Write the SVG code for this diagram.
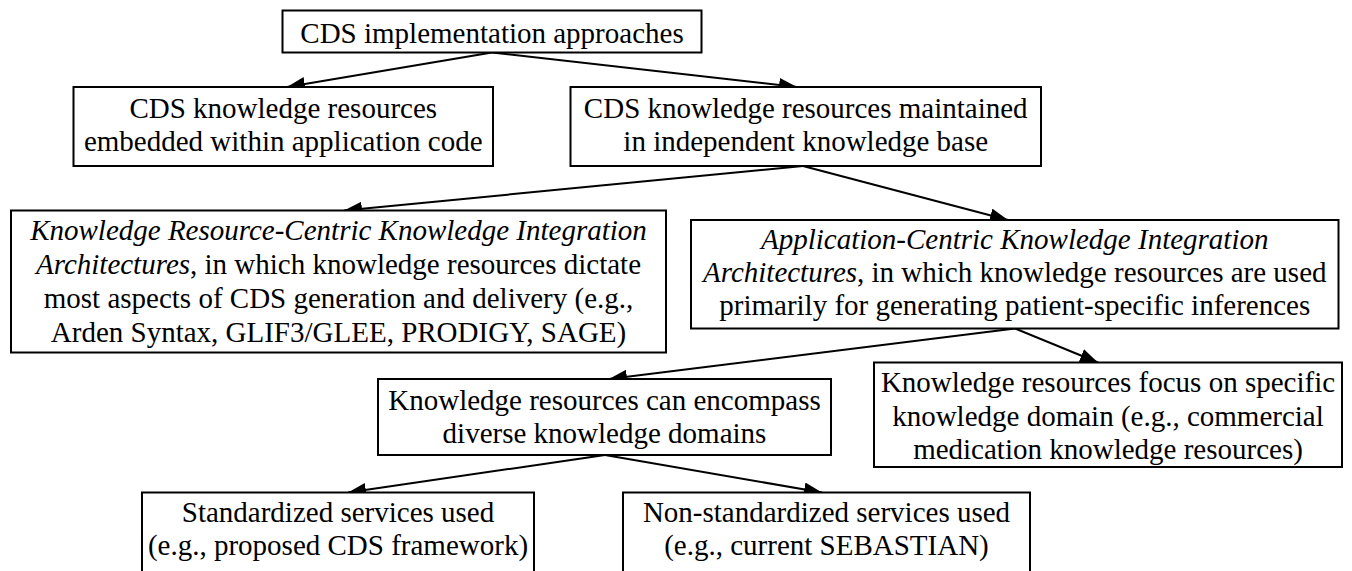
<svg xmlns="http://www.w3.org/2000/svg" width="1352" height="571" viewBox="0 0 1352 571">
  <style>
    .box { fill: #ffffff; stroke: #000000; stroke-width: 2; }
    .lbl { font-family: "Liberation Serif", "Times New Roman", serif; font-size: 29px; fill: #000000; text-anchor: middle; }
    .it { font-style: italic; }
    .edge { fill: none; stroke: #000000; stroke-width: 2; marker-end: url(#head); }
  </style>
  <defs>
    <!-- solid triangular arrowhead shared by all connectors -->
    <marker id="head" markerUnits="userSpaceOnUse" markerWidth="19" markerHeight="15" refX="18" refY="7" orient="auto">
      <path d="M0,0 L18,7 L0,14 Z" fill="#000000"/>
    </marker>
  </defs>
  <rect width="1352" height="571" fill="#ffffff"/>

  <!-- connectors -->
  <g id="connectors">
    <line class="edge" x1="492" y1="52.5" x2="287" y2="87"/>
    <line class="edge" x1="492" y1="52.5" x2="797" y2="87"/>
    <line class="edge" x1="803" y1="166" x2="344" y2="210.5"/>
    <line class="edge" x1="803" y1="166" x2="1008" y2="220"/>
    <line class="edge" x1="1015" y1="328.5" x2="609" y2="379"/>
    <line class="edge" x1="1015" y1="328.5" x2="1098" y2="362.5"/>
    <line class="edge" x1="605" y1="455" x2="348" y2="492.5"/>
    <line class="edge" x1="605" y1="455" x2="822" y2="492.5"/>
  </g>

  <g id="approaches">
    <rect class="box" x="282.5" y="10.5" width="419" height="42"/>
    <text class="lbl" x="492" y="42.5">CDS implementation approaches</text>
  </g>

  <g id="embedded">
    <rect class="box" x="73.5" y="87" width="419.5" height="79"/>
    <text class="lbl" x="283.25" y="117.5">CDS knowledge resources</text>
    <text class="lbl" x="283.25" y="151">embedded within application code</text>
  </g>

  <g id="independent">
    <rect class="box" x="570.5" y="87" width="470.5" height="79"/>
    <text class="lbl" x="805.75" y="117.5">CDS knowledge resources maintained</text>
    <text class="lbl" x="805.75" y="151">in independent knowledge base</text>
  </g>

  <g id="resource-centric">
    <rect class="box" x="11" y="210.5" width="655" height="142"/>
    <text class="lbl it" x="338.5" y="240">Knowledge Resource-Centric Knowledge Integration</text>
    <text class="lbl" x="338.5" y="274"><tspan class="it">Architectures</tspan>, in which knowledge resources dictate</text>
    <text class="lbl" x="338.5" y="308">most aspects of CDS generation and delivery (e.g.,</text>
    <text class="lbl" x="338.5" y="342">Arden Syntax, GLIF3/GLEE, PRODIGY, SAGE)</text>
  </g>

  <g id="application-centric">
    <rect class="box" x="691" y="220" width="647.5" height="108.5"/>
    <text class="lbl it" x="1014.75" y="249">Application-Centric Knowledge Integration</text>
    <text class="lbl" x="1014.75" y="282"><tspan class="it">Architectures</tspan>, in which knowledge resources are used</text>
    <text class="lbl" x="1014.75" y="315">primarily for generating patient-specific inferences</text>
  </g>

  <g id="diverse-domains">
    <rect class="box" x="378" y="379" width="453" height="76"/>
    <text class="lbl" x="604.5" y="410">Knowledge resources can encompass</text>
    <text class="lbl" x="604.5" y="443">diverse knowledge domains</text>
  </g>

  <g id="specific-domain">
    <rect class="box" x="874" y="362.5" width="468" height="104.5"/>
    <text class="lbl" x="1108" y="392">Knowledge resources focus on specific</text>
    <text class="lbl" x="1108" y="425.5">knowledge domain (e.g., commercial</text>
    <text class="lbl" x="1108" y="459">medication knowledge resources)</text>
  </g>

  <g id="standardized">
    <rect class="box" x="142" y="492.5" width="392" height="90"/>
    <text class="lbl" x="338" y="521.5">Standardized services used</text>
    <text class="lbl" x="338" y="555">(e.g., proposed CDS framework)</text>
  </g>

  <g id="non-standardized">
    <rect class="box" x="623" y="492.5" width="407" height="90"/>
    <text class="lbl" x="826.5" y="521.5">Non-standardized services used</text>
    <text class="lbl" x="826.5" y="555">(e.g., current SEBASTIAN)</text>
  </g>
</svg>
